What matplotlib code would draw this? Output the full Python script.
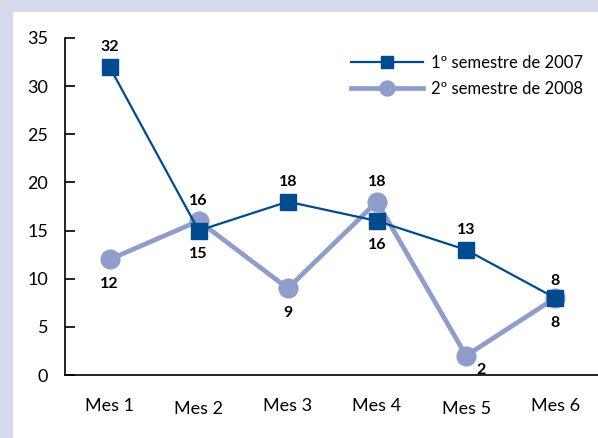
import matplotlib
matplotlib.use("Agg")
import matplotlib.pyplot as plt
from matplotlib.patches import Rectangle

# data
meses = ["Mes 1", "Mes 2", "Mes 3", "Mes 4", "Mes 5", "Mes 6"]
sem_2007 = [32, 15, 18, 16, 13, 8]
sem_2008 = [12, 16, 9, 18, 2, 8]
label_2007 = "1º semestre de 2007"
label_2008 = "2º semestre de 2008"

dark = "#004A8F"
light = "#8F9DCB"
plt.rcParams["font.family"] = ["Lato", "DejaVu Sans"]

fig = plt.figure(figsize=(5.98, 4.38), dpi=100)
fig.patch.set_facecolor("#D7DAEC")
fig.patches.append(Rectangle((13 / 598, 0), 1, 1 - 12 / 438, transform=fig.transFigure,
                             facecolor="white", edgecolor="none", zorder=-10))

ax = fig.add_axes([65 / 598, 63 / 438, 1 - 65 / 598, 337 / 438])
ax.set_facecolor("none")
x = list(range(len(meses)))

ax.plot(x, sem_2008, color=light, lw=3.4, marker="o", ms=13.5, label=label_2008, zorder=2)
ax.plot(x, sem_2007, color=dark, lw=1.6, marker="s", ms=11, label=label_2007, zorder=3)

# value labels: (offset in points) above / below
off_2007 = [(0, 14), (0, -17), (0, 14), (0, -17), (0, 14), (0, 12)]
off_2008 = [(0, -18), (0, 14), (0, -18), (0, 14), (11, -10), (0, -18)]
for xi, v, o in zip(x, sem_2007, off_2007):
    ax.annotate(str(v), (xi, v), xytext=o, textcoords="offset points",
                ha="center", va="center", fontsize=11.5, fontweight="bold")
for xi, v, o in zip(x, sem_2008, off_2008):
    ax.annotate(str(v), (xi, v), xytext=o, textcoords="offset points",
                ha="center", va="center", fontsize=11.5, fontweight="bold")

ax.set_xlim(-0.5, 5.48)
ax.set_ylim(0, 35)
ax.set_yticks(range(0, 36, 5))
ax.set_xticks(x)
ax.set_xticklabels(meses)
for i, lab in enumerate(ax.get_xticklabels()):
    lab.set_y(-0.045 if i in (1, 4) else -0.035)
ax.tick_params(axis="x", length=0, labelsize=13, pad=8)
ax.tick_params(axis="y", direction="in", length=7, width=1.2, labelsize=13, pad=12)
for s in ("top", "right"):
    ax.spines[s].set_visible(False)
ax.spines["left"].set_linewidth(1.2)
ax.spines["bottom"].set_linewidth(1.2)

h, l = ax.get_legend_handles_labels()
ax.legend(h[::-1], l[::-1], loc="upper right", bbox_to_anchor=(1.0, 0.995), frameon=False,
          fontsize=12, handlelength=4.3, handletextpad=0.5, labelspacing=0.6, markerscale=0.8)

fig.savefig("out.png", dpi=100)
